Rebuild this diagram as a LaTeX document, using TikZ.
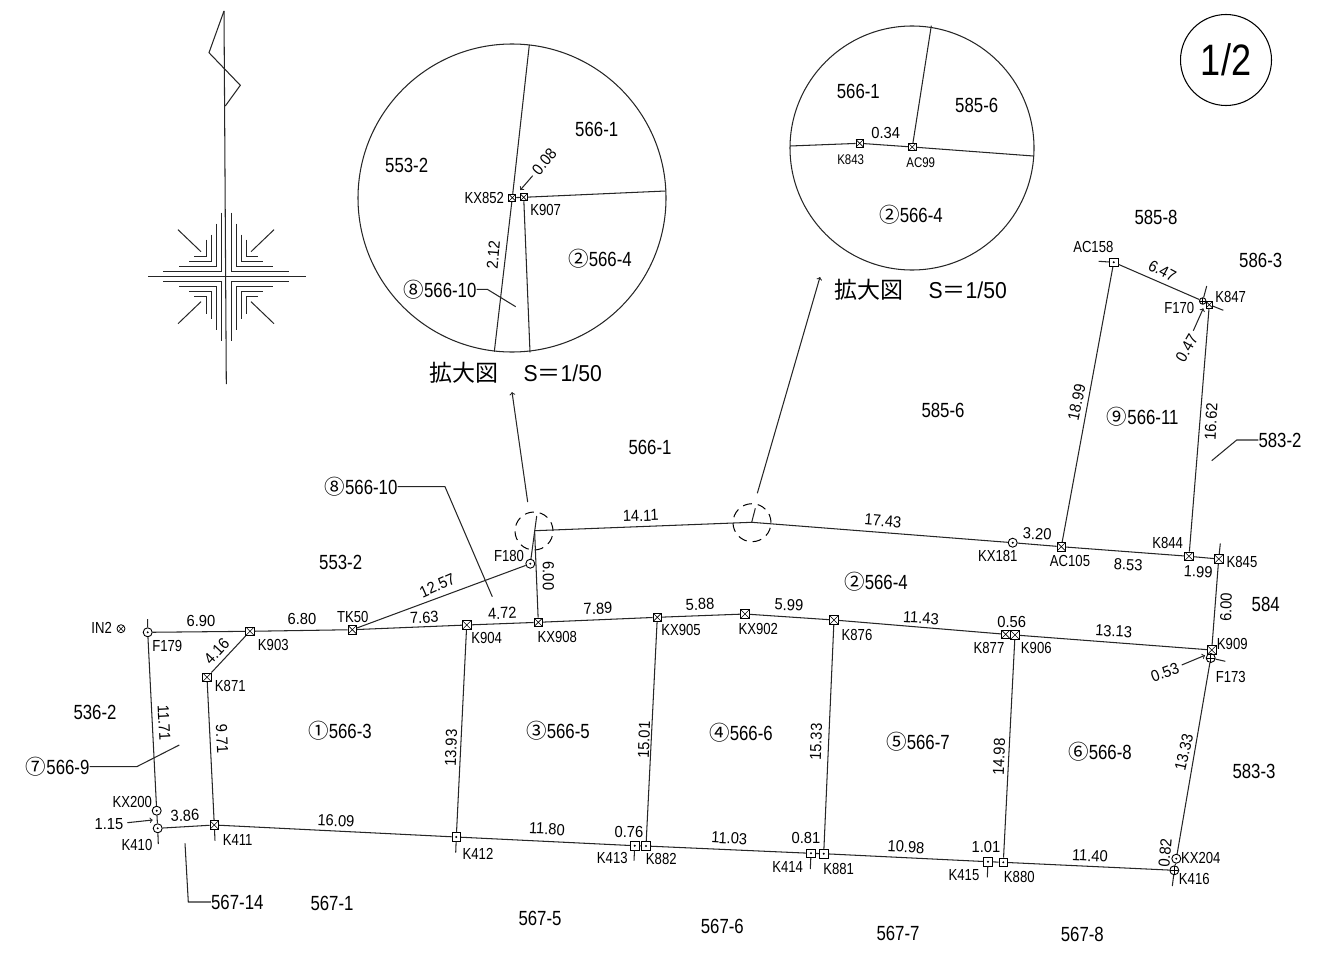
\documentclass[tikz,border=0pt]{standalone}
\usepackage{fontspec}
\setmainfont[FakeStretch=0.82]{Liberation Sans}
\newfontfamily\dimfont[FakeStretch=0.92]{Liberation Sans}
\newfontfamily\cjk{Noto Sans CJK JP}
\usetikzlibrary{positioning,calc}
\tikzset{
    line/.style={line width=1.05pt, black!85},
    lot/.style={font=\fontsize{20.5}{21}\selectfont, inner sep=0pt},
    tag/.style={font=\fontsize{16}{17}\selectfont, inner sep=0pt},
    len/.style={font=\dimfont\fontsize{16}{17}\selectfont, inner sep=0pt},
    title/.style={font=\dimfont\fontsize{23}{24}\selectfont, inner sep=0pt},
    xbox/.style={draw, line width=0.9pt, rectangle, minimum size=8.5pt, inner sep=0pt,
        path picture={\draw[line width=0.6pt] (path picture bounding box.north west) -- (path picture bounding box.south east)
            (path picture bounding box.north east) -- (path picture bounding box.south west);}},
    dbox/.style={draw, line width=0.9pt, rectangle, minimum size=8.5pt, inner sep=0pt,
        path picture={\fill (path picture bounding box.center) circle (1.1pt);}},
    dcirc/.style={draw, line width=0.9pt, circle, minimum size=9pt, inner sep=0pt,
        path picture={\fill (path picture bounding box.center) circle (1.1pt);}},
    pcirc/.style={draw, line width=0.9pt, circle, minimum size=9pt, inner sep=0pt,
        path picture={\draw[line width=0.6pt] (path picture bounding box.north) -- (path picture bounding box.south)
            (path picture bounding box.west) -- (path picture bounding box.east);}},
    ocirc/.style={draw, line width=0.8pt, circle, minimum size=8pt, inner sep=0pt,
        path picture={\draw[line width=0.5pt] (path picture bounding box.north west) -- (path picture bounding box.south east)
            (path picture bounding box.north east) -- (path picture bounding box.south west);}},
    zoomring/.style={draw, line width=1pt, dash pattern=on 9pt off 6pt, circle, minimum size=38pt, inner sep=0pt},
    lens/.style={draw, line width=1.05pt, black!85, circle, inner sep=0pt}
}
\begin{document}
\begin{tikzpicture}[x=1pt, y=-1pt]
    \useasboundingbox (0,0) rectangle (1319,966);

    % Sheet number
    \node[draw, line width=1.05pt, circle, minimum size=91pt, inner sep=0pt, font=\fontsize{44}{45}\selectfont] (sheet) at (1226,60) {1/2};

    % North mark
    \draw[line] (224,11) -- (226.3,384);
    \draw[line] (224,11) -- (209,52.7) -- (240.3,85.3) -- (225.3,106);
    \draw[line] (148.3,276.7) -- (306,276.7);
    \begin{scope}[shift={(226,276.7)}, line width=1pt, black!85]
        \draw (5,-64) -- (5,-5) -- (63,-5) (10,-53) -- (10,-10) -- (47,-10) (15,-42) -- (15,-15) -- (37,-15) (20,-37) -- (20,-20) -- (32,-20);
        \draw (-5,-64) -- (-5,-5) -- (-63,-5) (-10,-53) -- (-10,-10) -- (-47,-10) (-15,-42) -- (-15,-15) -- (-37,-15) (-20,-37) -- (-20,-20) -- (-32,-20);
        \draw (5,64) -- (5,5) -- (63,5) (10,53) -- (10,10) -- (47,10) (15,42) -- (15,15) -- (37,15) (20,37) -- (20,20) -- (32,20);
        \draw (-5,64) -- (-5,5) -- (-63,5) (-10,53) -- (-10,10) -- (-47,10) (-15,42) -- (-15,15) -- (-37,15) (-20,37) -- (-20,20) -- (-32,20);
        \draw (48,-47) -- (25,-25) (-48,-47) -- (-25,-25) (48,47) -- (25,25) (-48,47) -- (-25,25);
    \end{scope}

    % Enlarged view, left
    \node[lens, minimum size=308pt] (lensA) at (512,198) {};
    \node[xbox, minimum size=7pt] (aKX852) at (512.3,197.7) {};
    \node[xbox, minimum size=7pt] (aK907) at (523.7,197.3) {};
    \coordinate (aTop) at (529.3,45);
    \coordinate (aLow) at (494.3,351.7);
    \coordinate (aRight) at (665.7,191);
    \coordinate (aFoot) at (530,352.3);
    \draw[line] (aTop) -- (aKX852) -- (aLow);
    \draw[line] (aKX852) -- (aK907);
    \draw[line] (aK907) -- (aRight);
    \draw[line] (aK907) -- (aFoot);
    \node[lot] (aL1) at (406.7,165) {553-2};
    \node[lot] (aL2) at (596.7,129.3) {566-1};
    \node[lot] (aL3) at (600,258.3) {{\cjk ②}566-4};
    \node[lot] (aL4) at (440,290) {{\cjk ⑧}566-10};
    \node[tag] (aT1) at (484.3,198) {KX852};
    \node[tag] (aT2) at (545.7,210) {K907};
    \node[len, rotate=85] (aD1) at (493.3,255) {2.12};
    \node[len, rotate=50] (aD2) at (544.3,161.7) {0.08};
    \coordinate (aD2s) at (532.7,175.7);
    \coordinate (aD2e) at (520.3,190);
    \draw[line, ->] (aD2s) -- (aD2e);
    \coordinate (aLb) at (487.3,289.3);
    \coordinate (aLe) at (515.7,306.7);
    \draw[line] (aL4) -- (aLb) -- (aLe);
    \node[title] (aTitle) at (515.7,373) {{\cjk 拡大図}\hspace{25pt}S{\cjk ＝}1/50};

    % Enlarged view, right
    \node[lens, minimum size=244pt] (lensB) at (912,148) {};
    \node[xbox, minimum size=7.5pt] (bK843) at (859.7,143.3) {};
    \node[xbox, minimum size=7.5pt] (bAC99) at (912.3,147) {};
    \coordinate (bTop) at (931.3,25.7);
    \coordinate (bLeft) at (790,146);
    \coordinate (bRight) at (1033.3,156);
    \draw[line] (bTop) -- (bAC99);
    \draw[line] (bLeft) -- (bK843) -- (bAC99) -- (bRight);
    \node[lot] (bL1) at (858.3,91) {566-1};
    \node[lot] (bL2) at (976.7,105.7) {585-6};
    \node[lot] (bL3) at (911,214.3) {{\cjk ②}566-4};
    \node[len] (bD1) at (885.7,132.7) {0.34};
    \node[tag, font=\fontsize{14}{15}\selectfont] (bT1) at (850.7,159.3) {K843};
    \node[tag, font=\fontsize{14}{15}\selectfont] (bT2) at (920.7,162.7) {AC99};
    \node[title] (bTitle) at (920.7,290) {{\cjk 拡大図}\hspace{25pt}S{\cjk ＝}1/50};

    % Rings on the boundary and their arrows
    \node[zoomring] (ringA) at (534,531) {};
    \node[zoomring] (ringB) at (752,522.7) {};
    \coordinate (ringAs) at (527.7,502);
    \coordinate (ringAe) at (512,392);
    \coordinate (ringBs) at (757.3,493.3);
    \coordinate (ringBe) at (820,277);
    \draw[line, ->] (ringAs) -- (ringAe);
    \draw[line, ->] (ringBs) -- (ringBe);

    % Points, upper boundary
    \coordinate (cA) at (534.6,530.7);
    \coordinate (cAtop) at (536.7,516);
    \coordinate (cB) at (751.7,522.3);
    \coordinate (cBtop) at (755.3,508.3);
    \node[dcirc] (KX181) at (1012.7,542.7) {};
    \node[xbox] (AC105) at (1061.3,546.7) {};
    \node[xbox] (K844) at (1189,556.3) {};
    \node[xbox] (K845) at (1218.7,559) {};
    \node[dbox] (AC158) at (1113.7,262.3) {};
    \node[pcirc, minimum size=6.5pt] (F170) at (1202.7,301) {};
    \node[xbox, minimum size=6.5pt] (K847) at (1209.3,304.7) {};
    \coordinate (AC158t) at (1098.7,261.3);
    \coordinate (F170t) at (1206.7,286);
    \coordinate (K847t) at (1223.3,310.3);
    \coordinate (K845t) at (1220.3,543.5);

    % Points, middle line
    \node[dcirc] (F179) at (147.7,632.3) {};
    \node[xbox] (K903) at (250,631.3) {};
    \node[xbox] (TK50) at (352.3,629.7) {};
    \node[xbox] (K904) at (466.7,625) {};
    \node[xbox] (KX908) at (538.3,622.3) {};
    \node[xbox] (KX905) at (657.3,617.3) {};
    \node[xbox] (KX902) at (745,614) {};
    \node[xbox] (K876) at (834,620) {};
    \node[xbox] (K877) at (1005.7,634.3) {};
    \node[xbox] (K906) at (1015,635) {};
    \node[xbox] (K909) at (1211.7,650) {};
    \node[pcirc] (F173) at (1210.7,658) {};
    \node[dcirc] (F180) at (530.3,563.7) {};
    \node[xbox] (K871) at (207,677.3) {};
    \node[ocirc] (IN2) at (121,628.7) {};
    \coordinate (F179t) at (147.7,619);
    \coordinate (F173t) at (1225.3,661.3);

    % Points, lower line
    \node[dcirc] (KX200) at (156.7,810.7) {};
    \node[dcirc] (K410) at (157.7,828.3) {};
    \node[xbox] (K411) at (214.3,825) {};
    \node[dbox] (K412) at (456.3,837) {};
    \node[dbox] (K413) at (634.7,845.7) {};
    \node[dbox] (K882) at (646,846) {};
    \node[dbox] (K414) at (811,853.3) {};
    \node[dbox] (K881) at (823.7,853.7) {};
    \node[dbox] (K415) at (988,861.7) {};
    \node[dbox] (K880) at (1003.3,862.3) {};
    \node[dcirc] (KX204) at (1176.3,858.7) {};
    \node[pcirc] (K416) at (1174.3,870.3) {};
    \coordinate (K410t) at (158.3,844);
    \coordinate (K411t) at (215,840.7);
    \coordinate (K412t) at (455.7,852.7);
    \coordinate (K413t) at (634,860.7);
    \coordinate (K414t) at (810.3,869);
    \coordinate (K415t) at (987.3,877.3);
    \coordinate (K416t) at (1172.3,886);

    % Boundaries
    \draw[line] (cA) -- (cB) -- (KX181) -- (AC105) -- (K844) -- (K845);
    \draw[line] (cB) -- (cBtop);
    \draw[line] (KX908) -- (cA);
    \draw[line] (F180) -- (cAtop);
    \draw[line] (TK50) -- (F180);
    \draw[line] (AC105) -- (AC158) -- (F170) -- (K847) -- (K844);
    \draw[line] (AC158t) -- (AC158);
    \draw[line] (F170t) -- (F170);
    \draw[line] (K847t) -- (K847);
    \draw[line] (K845t) -- (K845) -- (K909) -- (F173) -- (KX204) -- (K416);
    \draw[line] (F173) -- (F173t);
    \draw[line] (F179) -- (K903) -- (TK50) -- (K904) -- (KX908) -- (KX905) -- (KX902) -- (K876) -- (K877) -- (K906) -- (K909);
    \draw[line] (F179t) -- (F179) -- (KX200) -- (K410) -- (K410t);
    \draw[line] (K903) -- (K871) -- (K411) -- (K411t);
    \draw[line] (K904) -- (K412) -- (K412t);
    \draw[line] (KX905) -- (K882);
    \draw[line] (K876) -- (K881);
    \draw[line] (K906) -- (K880);
    \draw[line] (K410) -- (K411) -- (K412) -- (K413) -- (K882) -- (K414) -- (K881) -- (K415) -- (K880) -- (K416) -- (K416t);
    \draw[line] (K413) -- (K413t);
    \draw[line] (K414) -- (K414t);
    \draw[line] (K415) -- (K415t);

    % Point names
    \node[tag] (tIN2) at (101.7,627.7) {IN2};
    \node[tag] (tF179) at (167.3,645.7) {F179};
    \node[tag] (tK903) at (273.3,645.3) {K903};
    \node[tag] (tTK50) at (352.7,616.7) {TK50};
    \node[tag] (tK904) at (486.7,638.3) {K904};
    \node[tag] (tF180) at (509,556) {F180};
    \node[tag] (tK871) at (230.3,685.7) {K871};
    \node[tag] (tKX908) at (557.3,636.7) {KX908};
    \node[tag] (tKX905) at (681,630) {KX905};
    \node[tag] (tKX902) at (758.3,628.7) {KX902};
    \node[tag] (tK876) at (857,635) {K876};
    \node[tag] (tK877) at (989,648.3) {K877};
    \node[tag] (tK906) at (1036.3,648.3) {K906};
    \node[tag] (tK909) at (1232.3,644) {K909};
    \node[tag] (tF173) at (1230.7,676.7) {F173};
    \node[tag] (tK845) at (1242,562) {K845};
    \node[tag] (tK844) at (1167.7,543.3) {K844};
    \node[tag] (tAC105) at (1070,560.7) {AC105};
    \node[tag] (tKX181) at (997.7,556) {KX181};
    \node[tag] (tAC158) at (1093.3,246.7) {AC158};
    \node[tag] (tF170) at (1179.3,307.7) {F170};
    \node[tag] (tK847) at (1230.7,297.3) {K847};
    \node[tag] (tKX200) at (132.3,802.3) {KX200};
    \node[tag] (tK410) at (137,845) {K410};
    \node[tag] (tK411) at (237.7,840) {K411};
    \node[tag] (tK412) at (478,854) {K412};
    \node[tag] (tK413) at (612.3,858.3) {K413};
    \node[tag] (tK882) at (661.3,859.3) {K882};
    \node[tag] (tK414) at (787.7,866.7) {K414};
    \node[tag] (tK881) at (838.7,869.3) {K881};
    \node[tag] (tK415) at (964,875) {K415};
    \node[tag] (tK880) at (1019.3,876.7) {K880};
    \node[tag] (tKX204) at (1200.7,858.3) {KX204};
    \node[tag] (tK416) at (1194.3,879.3) {K416};

    % Lengths
    \node[len] (d690) at (201,621) {6.90};
    \node[len] (d680) at (302,619) {6.80};
    \node[len, rotate=3] (d763) at (424.3,617.7) {7.63};
    \node[len, rotate=3] (d472) at (502.3,613.3) {4.72};
    \node[len, rotate=24] (d1257) at (437.3,585.7) {12.57};
    \node[len, rotate=47] (d416) at (216.7,651.7) {4.16};
    \node[len, rotate=-90] (d600a) at (548.3,576) {6.00};
    \node[len, rotate=2] (d1411) at (640.7,515.7) {14.11};
    \node[len, rotate=-5] (d1743) at (883,521) {17.43};
    \node[len, rotate=3] (d789) at (598,608.7) {7.89};
    \node[len, rotate=2] (d588) at (700,604.3) {5.88};
    \node[len, rotate=-3] (d599) at (789,605) {5.99};
    \node[len, rotate=-3] (d1143) at (921,618) {11.43};
    \node[len] (d056) at (1011.7,621.7) {0.56};
    \node[len, rotate=-3] (d1313) at (1113.7,631.3) {13.13};
    \node[len, rotate=20] (d053) at (1165,672.3) {0.53};
    \node[len, rotate=88] (d600b) at (1226,607.3) {6.00};
    \node[len, rotate=-3] (d199) at (1198.3,571.7) {1.99};
    \node[len, rotate=-3] (d853) at (1128.3,564.7) {8.53};
    \node[len, rotate=-3] (d320) at (1037.3,534) {3.20};
    \node[len, rotate=78] (d1899) at (1076.7,402.3) {18.99};
    \node[len, rotate=87] (d1662) at (1211,421.7) {16.62};
    \node[len, rotate=60] (d047) at (1186.7,348.3) {0.47};
    \node[len, rotate=-28] (d647) at (1162.3,271) {6.47};
    \node[len, rotate=-87] (d1171) at (164,723) {11.71};
    \node[len, rotate=-87] (d971) at (222,739) {9.71};
    \node[len, rotate=88] (d1393) at (451,748) {13.93};
    \node[len, rotate=88] (d1501) at (644,740) {15.01};
    \node[len, rotate=88] (d1533) at (816,742) {15.33};
    \node[len, rotate=88] (d1498) at (999,757) {14.98};
    \node[len, rotate=77] (d1333) at (1184,752) {13.33};
    \node[len, rotate=3] (d386) at (185,815.7) {3.86};
    \node[len] (d115) at (109,824.3) {1.15};
    \node[len, rotate=-3] (d1609) at (336,820.7) {16.09};
    \node[len, rotate=-3] (d1180) at (547,829) {11.80};
    \node[len] (d076) at (629,831.7) {0.76};
    \node[len, rotate=-3] (d1103) at (729.3,838.3) {11.03};
    \node[len] (d081) at (806,838.3) {0.81};
    \node[len, rotate=-3] (d1098) at (906,847) {10.98};
    \node[len] (d101) at (986,847.3) {1.01};
    \node[len, rotate=-3] (d1140) at (1090,855.7) {11.40};
    \node[len, rotate=85] (d082) at (1165,852.7) {0.82};

    % Small arrows to short lengths
    \coordinate (a115s) at (127.3,822.7);
    \coordinate (a115e) at (152.7,820);
    \draw[line, ->] (a115s) -- (a115e);
    \coordinate (a053s) at (1181.7,665);
    \coordinate (a053e) at (1205,655.3);
    \draw[line, ->] (a053s) -- (a053e);
    \coordinate (a047s) at (1193.3,330.7);
    \coordinate (a047e) at (1203.3,308.3);
    \draw[line, ->] (a047s) -- (a047e);

    % Lot numbers
    \node[lot] (lot5532) at (340.7,562) {553-2};
    \node[lot] (lot5661) at (650,447) {566-1};
    \node[lot] (lot5856) at (943,410) {585-6};
    \node[lot] (lot5858) at (1156,217) {585-8};
    \node[lot] (lot5863) at (1260.7,260) {586-3};
    \node[lot] (lot9) at (1142.7,416.7) {{\cjk ⑨}566-11};
    \node[lot] (lot5832) at (1280,440) {583-2};
    \node[lot] (lot2) at (876,582) {{\cjk ②}566-4};
    \node[lot] (lot584) at (1265.7,604) {584};
    \node[lot] (lot8) at (361,486.7) {{\cjk ⑧}566-10};
    \node[lot] (lot5362) at (95,712) {536-2};
    \node[lot] (lot7) at (57.7,766.7) {{\cjk ⑦}566-9};
    \node[lot] (lot1) at (340,731) {{\cjk ①}566-3};
    \node[lot] (lot3) at (558,731) {{\cjk ③}566-5};
    \node[lot] (lot4) at (741,733) {{\cjk ④}566-6};
    \node[lot] (lot5) at (918,742) {{\cjk ⑤}566-7};
    \node[lot] (lot6) at (1100,752) {{\cjk ⑥}566-8};
    \node[lot] (lot5833) at (1254,771) {583-3};
    \node[lot] (lot56714) at (237.3,902) {567-14};
    \node[lot] (lot5671) at (332,903.3) {567-1};
    \node[lot] (lot5675) at (540,918) {567-5};
    \node[lot] (lot5676) at (722.3,926) {567-6};
    \node[lot] (lot5677) at (898,933) {567-7};
    \node[lot] (lot5678) at (1082.3,934) {567-8};

    % Leaders
    \coordinate (lead8b) at (445,486.7);
    \coordinate (lead8e) at (492.3,596.7);
    \draw[line] (lot8) -- (lead8b) -- (lead8e);
    \coordinate (lead7b) at (136.7,766.7);
    \coordinate (lead7e) at (179.3,745);
    \draw[line] (lot7) -- (lead7b) -- (lead7e);
    \coordinate (lead14b) at (188.3,902);
    \coordinate (lead14e) at (185,843.3);
    \draw[line] (lot56714) -- (lead14b) -- (lead14e);
    \coordinate (lead2b) at (1236.7,440);
    \coordinate (lead2e) at (1211.7,460.7);
    \draw[line] (lot5832) -- (lead2b) -- (lead2e);
\end{tikzpicture}
\end{document}
